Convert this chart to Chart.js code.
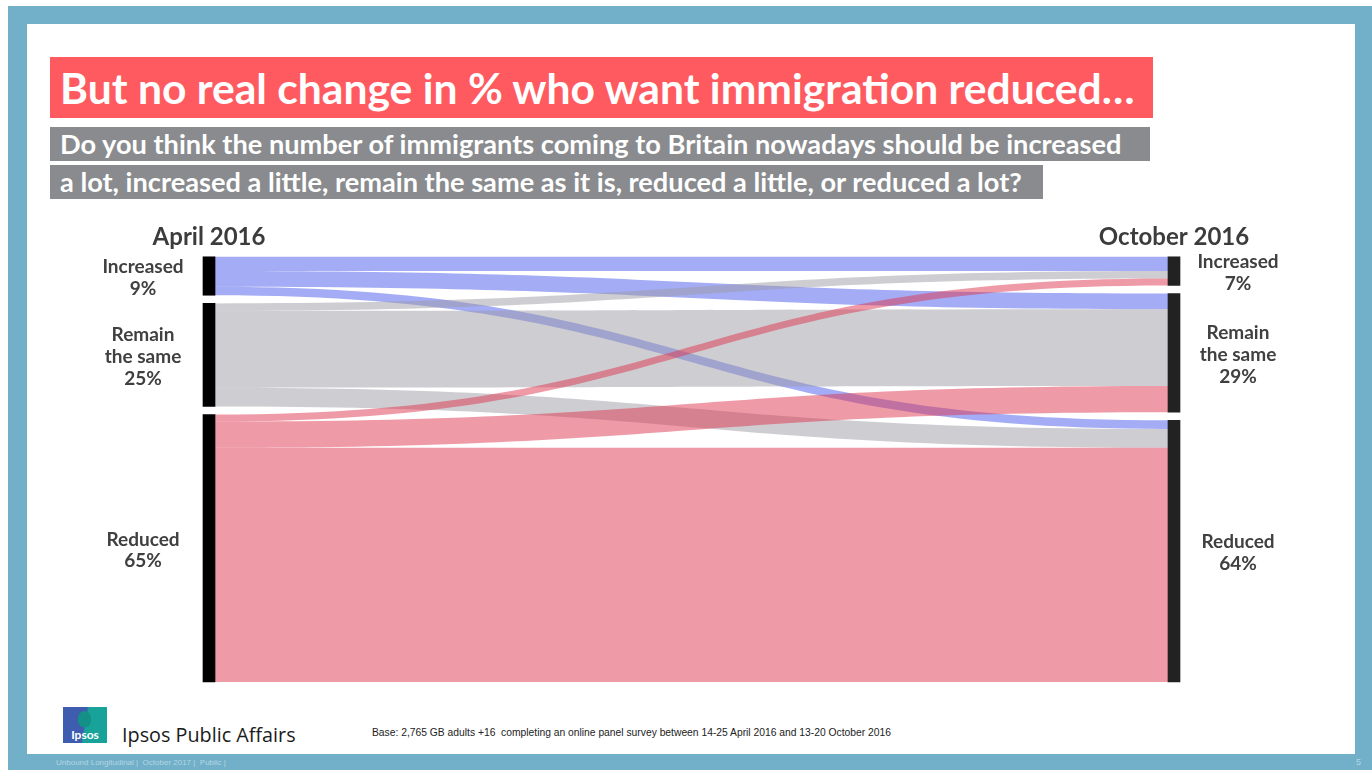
<!DOCTYPE html>
<html>
<head>
<meta charset="utf-8">
<script src="https://cdn.jsdelivr.net/npm/chart.js@4.4.1/dist/chart.umd.min.js"></script>
<style>
  body { margin: 0; width: 1372px; height: 770px; overflow: hidden; background: #fff; font-family: Lato, "Open Sans", sans-serif; position: relative; }
  .frame { position: absolute; left: 8px; top: 6px; right: 0; bottom: 0; background: #71b0c8; }
  .panel { position: absolute; left: 27px; top: 24px; width: 1328px; height: 730px; background: #fff; }
  .box { position: absolute; left: 50px; color: #fff; font-weight: bold; white-space: nowrap; box-sizing: border-box; padding-left: 10px; }
  .title { top: 57px; width: 1103px; height: 61px; line-height: 61px; font-size: 42.6px; background: #ff5a5f; }
  .q1 { top: 127px; width: 1100px; height: 34px; line-height: 34px; font-size: 27.2px; background: #898b8e; }
  .q2 { top: 165px; width: 993px; height: 34px; line-height: 34px; font-size: 27.2px; background: #898b8e; }
  #chartWrap { position: absolute; left: 0; top: 200px; width: 1372px; height: 500px; }
  .logo { position: absolute; left: 63px; top: 707px; width: 44px; height: 36px; background: linear-gradient(100deg, #3f5dae 0 48%, #17a39a 52% 100%); color: #fff; font-size: 12px; font-weight: bold; text-align: center; line-height: 56px; overflow: hidden; }
  .logo .head { position: absolute; left: 15px; top: 4px; width: 13px; height: 16px; border-radius: 50% 50% 40% 40%; background: #149087; }
  .brand { position: absolute; left: 122px; top: 721px; font-size: 19.8px; color: #1a1a1a; font-family: "Open Sans", sans-serif; }
  .base { position: absolute; left: 372px; top: 727px; font-size: 10.3px; color: #222; font-family: "Liberation Sans", sans-serif; }
  .foot { position: absolute; left: 56px; top: 758px; font-size: 8px; color: #b4d6e4; font-family: "Liberation Sans", sans-serif; }
  .page { position: absolute; left: 1356px; top: 757px; font-size: 9px; color: #b4d6e4; font-family: "Liberation Sans", sans-serif; }
</style>
</head>
<body>
<div class="frame"></div>
<div class="panel"></div>
<div class="box title">But no real change in % who want immigration reduced…</div>
<div class="box q1">Do you think the number of immigrants coming to Britain nowadays should be increased</div>
<div class="box q2">a lot, increased a little, remain the same as it is, reduced a little, or reduced a lot?</div>
<div id="chartWrap"><canvas id="flowChart"></canvas></div>
<div class="logo"><div class="head"></div>Ipsos</div>
<div class="brand">Ipsos Public Affairs</div>
<div class="base">Base: 2,765 GB adults +16&nbsp; completing an online panel survey between 14-25 April 2016 and 13-20 October 2016</div>
<div class="foot">Unbound Longitudinal |&nbsp; October 2017 |&nbsp; Public |</div>
<div class="page">5</div>

<script>
const waves = ['April 2016', 'October 2016'];
const categories = ['Increased', 'Remain the same', 'Reduced'];
const categoryLines = [['Increased'], ['Remain', 'the same'], ['Reduced']];

// % of panel moving from each April answer to each October answer
// (order: Increased, Remain the same, Reduced)
const fromIncreased = [3.5, 3.8, 2.1];
const fromRemain = [1.8, 18.8, 4.6];
const fromReduced = [1.7, 6.4, 57.3];

const flowColours = ['rgba(71, 89, 235, 0.5)', 'rgba(157, 155, 165, 0.5)', 'rgba(223, 53, 79, 0.5)'];
const nodeColours = ['#000000', '#222222'];
const NODE_GAP = 2;

const flows = [fromIncreased, fromRemain, fromReduced];
const aprilTotals = flows.map(row => row.reduce((a, b) => a + b, 0));
const octoberTotals = categories.map((c, j) => flows.reduce((a, row) => a + row[j], 0));
const grandTotal = aprilTotals.reduce((a, b) => a + b, 0);

function starts(totals) {
    let acc = 0;
    return totals.map((t, i) => {
        const s = acc;
        acc += t + NODE_GAP;
        return s;
    });
}
const aprilStarts = starts(aprilTotals);
const octoberStarts = starts(octoberTotals);

const datasets = categories.map((cat, i) => ({
    label: cat,
    data: [
        [aprilStarts[i], aprilStarts[i] + aprilTotals[i]],
        [octoberStarts[i], octoberStarts[i] + octoberTotals[i]]
    ],
    backgroundColor: nodeColours,
    barThickness: 12,
    grouped: false,
    clip: false
}));

// ribbons between the two waves
const sankeyLinks = {
    id: 'sankeyLinks',
    beforeDatasetsDraw(chart) {
        const ctx = chart.ctx;
        const y = chart.scales.y;
        const left = chart.getDatasetMeta(0).data[0];
        const right = chart.getDatasetMeta(0).data[1];
        const x0 = left.x + left.width / 2;
        const x1 = right.x - right.width / 2;
        const xm = (x0 + x1) / 2;
        ctx.save();
        flows.forEach((row, i) => {
            row.forEach((v, j) => {
                const sy0 = aprilStarts[i] + row.slice(0, j).reduce((a, b) => a + b, 0);
                const ty0 = octoberStarts[j] + flows.slice(0, i).reduce((a, r) => a + r[j], 0);
                const a0 = y.getPixelForValue(sy0), a1 = y.getPixelForValue(sy0 + v);
                const b0 = y.getPixelForValue(ty0), b1 = y.getPixelForValue(ty0 + v);
                ctx.beginPath();
                ctx.moveTo(x0, a0);
                ctx.bezierCurveTo(xm, a0, xm, b0, x1, b0);
                ctx.lineTo(x1, b1);
                ctx.bezierCurveTo(xm, b1, xm, a1, x0, a1);
                ctx.closePath();
                ctx.fillStyle = flowColours[i];
                ctx.fill();
            });
        });
        ctx.restore();
    },
    afterDatasetsDraw(chart) {
        const ctx = chart.ctx;
        const y = chart.scales.y;
        ctx.save();
        ctx.font = 'bold 19px Lato';
        ctx.fillStyle = '#404040';
        ctx.textAlign = 'center';
        ctx.textBaseline = 'middle';
        const lh = 21.8;
        [[aprilStarts, aprilTotals, -66, 0], [octoberStarts, octoberTotals, 64, 1]].forEach(([st, tot, dx, k]) => {
            const bar = chart.getDatasetMeta(0).data[k];
            categories.forEach((c, i) => {
                const lines = categoryLines[i].concat(Math.round(tot[i]) + '%');
                const cy = (y.getPixelForValue(st[i]) + y.getPixelForValue(st[i] + tot[i])) / 2 + 2;
                const top = cy - (lines.length - 1) * lh / 2;
                lines.forEach((t, n) => ctx.fillText(t, bar.x + dx, top + n * lh));
            });
        });
        ctx.restore();
    }
};

new Chart(document.getElementById('flowChart'), {
    type: 'bar',
    data: { labels: waves, datasets: datasets },
    plugins: [sankeyLinks],
    options: {
        responsive: true,
        maintainAspectRatio: false,
        animation: false,
        layout: { padding: { left: 209, right: 198, top: 18, bottom: 18 } },
        plugins: { legend: { display: false }, tooltip: { enabled: false } },
        scales: {
            x: {
                position: 'top',
                offset: false,
                grid: { display: false, drawTicks: false },
                border: { display: false },
                ticks: {
                    font: { family: 'Lato', weight: 'bold', size: 24 },
                    color: '#3c3c3c',
                    padding: 5,
                    maxRotation: 0,
                    autoSkip: false
                }
            },
            y: {
                display: false,
                reverse: true,
                min: 0,
                max: grandTotal + 2 * NODE_GAP
            }
        }
    }
});
</script>
</body>
</html>
